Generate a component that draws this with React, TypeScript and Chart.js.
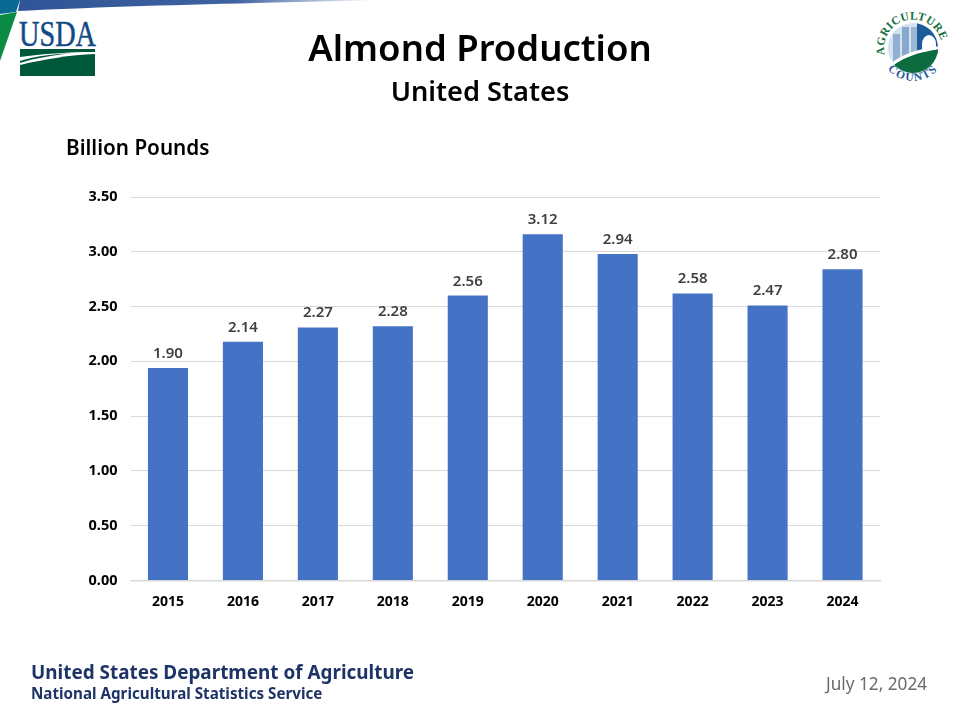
import React, { useEffect, useRef } from "react";
import { Chart, registerables } from "chart.js";

Chart.register(...registerables);

const years = ["2015", "2016", "2017", "2018", "2019", "2020", "2021", "2022", "2023", "2024"];
const barHeights = [1.94, 2.18, 2.31, 2.32, 2.6, 3.16, 2.98, 2.62, 2.51, 2.84];
const valueLabels = ["1.90", "2.14", "2.27", "2.28", "2.56", "3.12", "2.94", "2.58", "2.47", "2.80"];

const FONT = '"Noto Sans", "Open Sans", sans-serif';

const labelPlugin = {
  id: "valueLabels",
  afterDatasetsDraw(chart: any) {
    const { ctx } = chart;
    const meta = chart.getDatasetMeta(0);
    ctx.save();
    ctx.font = `600 15px ${FONT}`;
    ctx.fillStyle = "#404040";
    ctx.textAlign = "center";
    ctx.textBaseline = "alphabetic";
    meta.data.forEach((bar: any, i: number) => {
      ctx.fillText(valueLabels[i], bar.x, bar.y - 10);
    });
    ctx.restore();
  },
};

const abs = (left: number, top: number, extra: React.CSSProperties = {}): React.CSSProperties => ({
  position: "absolute",
  left,
  top,
  whiteSpace: "nowrap",
  fontFamily: FONT,
  ...extra,
});

function Decorations() {
  return (
    <svg width={960} height={720} style={{ position: "absolute", left: 0, top: 0 }}>
      <defs>
        <linearGradient id="sw" x1="0" x2="1" y1="0" y2="0">
          <stop offset="0" stopColor="#2f5597" />
          <stop offset="0.6" stopColor="#3f62a0" />
          <stop offset="1" stopColor="#ffffff" />
        </linearGradient>
        <clipPath id="disc">
          <circle cx="913" cy="48" r="25" />
        </clipPath>
        <path id="arcTop" d="M 885 56 A 29 29 0 1 1 941 56" />
        <path id="arcBot" d="M 881 56 A 33 33 0 0 0 945 56" />
      </defs>
      <path d="M20 0 L380 0 C 250 3 110 6 18 11 Z" fill="url(#sw)" />
      <path d="M0 0 L20 0 L16 12 L0 14 Z" fill="#0b6a94" />
      <path d="M0 15 L17 12 L0 61 Z" fill="#0b8a44" />
      <text x="19" y="46" fontFamily="Liberation Serif, serif" fontSize="35" fill="#134a86" stroke="#134a86" strokeWidth="0.5" textLength="77" lengthAdjust="spacingAndGlyphs">USDA</text>
      <path d="M20 49 H95 V52 C 70 52 40 54 20 57 Z" fill="#00583a" />
      <path d="M20 61 C 35 56 55 54 72 53 C 55 55 35 58 20 63 Z" fill="#00583a" />
      <path d="M20 65 C 45 59 70 55 95 54 V76 H20 Z" fill="#00583a" />
      <g clipPath="url(#disc)">
        <rect x="888" y="23" width="50" height="50" fill="#d5e2ef" />
        <rect x="893" y="34" width="7" height="32" fill="#8fb0d2" />
        <rect x="902" y="27" width="7" height="36" fill="#86a9cd" />
        <rect x="911" y="27" width="6" height="34" fill="#9ab7d6" />
        <path d="M917 20 H940 V54 H917 Z" fill="#1c5a9a" />
        <path d="M922 52 v-8 a7 9 0 0 1 14 0 v8 Z" fill="#ffffff" />
        <path d="M888 70 C 900 58 918 52 940 49 V76 H888 Z" fill="#0c6b3f" />
        <path d="M888 66 C 900 54 918 49 940 46 V49 C 918 52 900 58 888 70 Z" fill="#ffffff" />
      </g>
      <text fontFamily="Liberation Serif, serif" fontSize="11.5" fontWeight="700" fill="#14703f" letterSpacing="0.4">
        <textPath href="#arcTop" startOffset="1">AGRICULTURE</textPath>
      </text>
      <text fontFamily="Liberation Serif, serif" fontSize="11.5" fontWeight="700" fill="#1b5a9b" letterSpacing="1.5" textAnchor="middle">
        <textPath href="#arcBot" startOffset="50%">COUNTS</textPath>
      </text>
    </svg>
  );
}

export default function App() {
  const ref = useRef<HTMLCanvasElement | null>(null);

  useEffect(() => {
    document.body.style.margin = "0";
    const chart = new Chart(ref.current as HTMLCanvasElement, {
      type: "bar",
      data: {
        labels: years,
        datasets: [
          {
            data: barHeights,
            backgroundColor: "#4472c4",
            barPercentage: 0.535,
            categoryPercentage: 1,
          },
        ],
      },
      options: {
        responsive: false,
        animation: false,
        layout: { padding: { top: 197, right: 80, left: 0, bottom: 0 } },
        plugins: { legend: { display: false }, tooltip: { enabled: false }, title: { display: false } },
        scales: {
          x: {
            grid: { display: false, drawTicks: false },
            border: { color: "#d9d9d9", width: 1.5 },
            ticks: { color: "#000000", padding: 13, font: { family: FONT, size: 14, weight: 700 }, maxRotation: 0 },
            afterFit(scale: any) {
              scale.height = 139.5;
            },
          },
          y: {
            min: 0,
            max: 3.5,
            grid: { color: "#d9d9d9", lineWidth: 1, drawTicks: false },
            border: { display: false },
            ticks: {
              stepSize: 0.5,
              color: "#000000",
              padding: 13,
              font: { family: FONT, size: 14.5, weight: 700 },
              callback: (v: any) => Number(v).toFixed(2),
            },
            afterFit(scale: any) {
              scale.width = 130.5;
            },
          },
        },
      },
      plugins: [labelPlugin],
    } as any);
    return () => chart.destroy();
  }, []);

  return (
    <div style={{ position: "relative", width: 960, height: 720, overflow: "hidden", background: "#fff" }}>
      <Decorations />
      <canvas ref={ref} width={960} height={720} style={{ position: "absolute", left: 0, top: 0 }} />
      <div style={abs(0, 22, { width: 960, textAlign: "center", fontSize: 36.5, fontWeight: 600, lineHeight: "50px", color: "#000" })}>Almond Production</div>
      <div style={abs(0, 73, { width: 960, textAlign: "center", fontSize: 27.2, fontWeight: 600, lineHeight: "36px", color: "#000" })}>United States</div>
      <div style={abs(66, 133, { fontSize: 20.7, fontWeight: 600, lineHeight: "28px", color: "#000" })}>Billion Pounds</div>
      <div style={abs(31, 658, { fontSize: 18.9, fontWeight: 700, lineHeight: "28px", color: "#1f3466" })}>United States Department of Agriculture</div>
      <div style={abs(31, 682, { fontSize: 15.2, fontWeight: 700, lineHeight: "22px", color: "#1f3466" })}>National Agricultural Statistics Service</div>
      <div style={abs(826, 673, { fontSize: 17.2, lineHeight: "22px", color: "#6b6b6b" })}>July 12, 2024</div>
    </div>
  );
}
